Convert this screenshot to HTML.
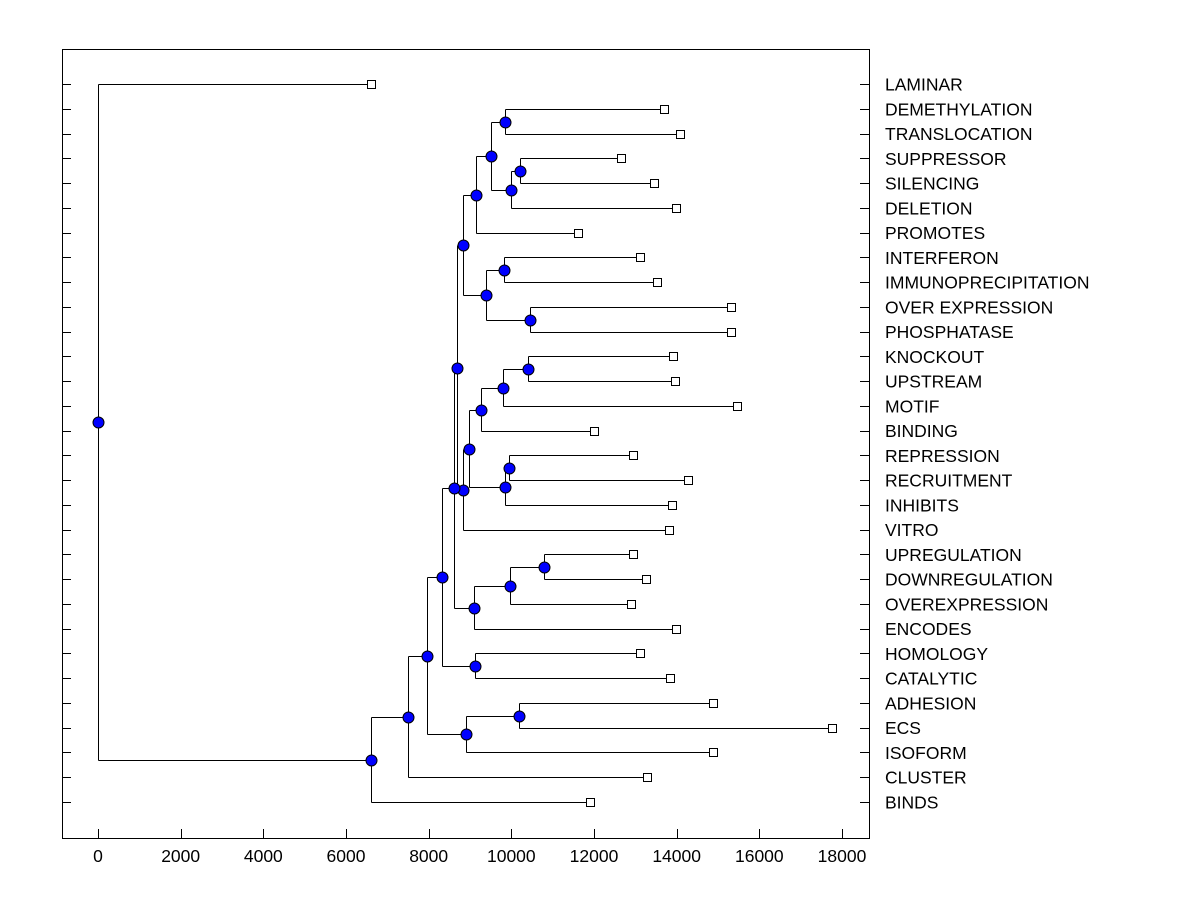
<!DOCTYPE html>
<html><head><meta charset="utf-8"><style>
html,body{margin:0;padding:0;background:#fff;}
svg{display:block;font-family:"Liberation Sans",Arial,sans-serif;}
</style></head><body>
<svg id="chart" width="1200" height="900" viewBox="0 0 1200 900"></svg>
<script>
const leafNames = ["LAMINAR","DEMETHYLATION","TRANSLOCATION","SUPPRESSOR","SILENCING","DELETION","PROMOTES","INTERFERON","IMMUNOPRECIPITATION","OVER EXPRESSION","PHOSPHATASE","KNOCKOUT","UPSTREAM","MOTIF","BINDING","REPRESSION","RECRUITMENT","INHIBITS","VITRO","UPREGULATION","DOWNREGULATION","OVEREXPRESSION","ENCODES","HOMOLOGY","CATALYTIC","ADHESION","ECS","ISOFORM","CLUSTER","BINDS"];
const leafValues = [6605,13694,14081,12653,13452,13984,11613,13113,13524,15315,15315,13911,13960,15460,12000,12944,14274,13887,13815,12944,13258,12895,13984,13113,13839,14879,17758,14879,13282,11903];
const nodeNames = ["root","A","B","C","E","F","D","H","G","N607","N585","N567","N366","N489","N448","N409","N387","N369","N486","N468","N244","N194","N155","N121","N189","N171","N295","N270","N319"];
const nodeHeights = [0,6605,7500,7960,8903,10185,8323,9121,8613,9097,9968,10790,8685,8831,8976,9266,9798,10403,9847,9944,8831,9145,9508,9847,9992,10210,9387,9823,10452];
const nodeChildren = [[0,"A"],["B",29],["C",28],["D","E"],["F",27],[25,26],["G","H"],[23,24],["N366","N607"],["N585",22],["N567",21],[19,20],["N244","N489"],["N448",18],["N409","N486"],["N387",14],["N369",13],[11,12],["N468",17],[15,16],["N194","N295"],["N155",6],["N121","N189"],[1,2],["N171",5],[3,4],["N270","N319"],[7,8],[9,10]];
const xTicks = [0,2000,4000,6000,8000,10000,12000,14000,16000,18000];

const svg = document.getElementById('chart');
const NS = "http://www.w3.org/2000/svg";
const L=62,R=869,T=49,B=838;
const xs = v => 98 + v*(744/18000);
const ys = i => 84 + i*(718/29);
const px = v => Math.round(v)+0.5;
function mk(tag, attrs, parent){const e=document.createElementNS(NS,tag);for(const k in attrs)e.setAttribute(k,attrs[k]);(parent||svg).appendChild(e);return e;}

const frame = mk('rect',{x:L+0.5,y:T+0.5,width:R-L,height:B-T,fill:'none',stroke:'#000','stroke-width':1});



xTicks.forEach(v=>{
  const x=px(xs(v));
  const t=mk('line',{x1:x,x2:x,y1:B,y2:B-9,stroke:'#000'});
  
  
  const lb=mk('text',{x:xs(v),y:862,'text-anchor':'middle','font-size':17.5,fill:'#000'});
  lb.textContent=v;
  
  
});
leafNames.forEach((n,i)=>{
  const y=px(ys(i));
  const a=mk('line',{x1:L,x2:L+9,y1:y,y2:y,stroke:'#000'});
  
  
  const b=mk('line',{x1:R-9,x2:R,y1:y,y2:y,stroke:'#000'});
  
  
  const lb=mk('text',{x:885,y:ys(i)+6.5,'font-size':17.5,fill:'#000'});
  lb.textContent=n;
  
  
});

const idx = {}; nodeNames.forEach((n,i)=>idx[n]=i);
const gLines = mk('g',{stroke:'#000','stroke-width':1,fill:'none'});
const gMarks = mk('g',{});
function pos(c){
  if(typeof c==='number') return {x:px(xs(leafValues[c])),y:px(ys(c)),leaf:c};
  const i=idx[c];
  const p0=pos(nodeChildren[i][0]), p1=pos(nodeChildren[i][1]);
  return {x:px(xs(nodeHeights[i])),y:Math.floor((p0.y+p1.y)/2)+0.5,kids:[p0,p1],name:c};
}
function draw(p){
  if(p.leaf!==undefined){
    const s=mk('rect',{x:p.x-4,y:p.y-4,width:8,height:8,fill:'#fff',stroke:'#000'},gMarks);
    
    
    return;
  }
  const v=mk('line',{x1:p.x,x2:p.x,y1:p.kids[0].y,y2:p.kids[1].y},gLines);
  
  
  p.kids.forEach(k=>{
    const h=mk('line',{x1:p.x,x2:k.x,y1:k.y,y2:k.y},gLines);
    
    
    draw(k);
  });
  const c=mk('circle',{cx:p.x,cy:p.y,r:5.5,fill:'#0000ff',stroke:'#000','stroke-width':1},gMarks);
  
  
}
draw(pos('root'));
</script>
</body></html>
